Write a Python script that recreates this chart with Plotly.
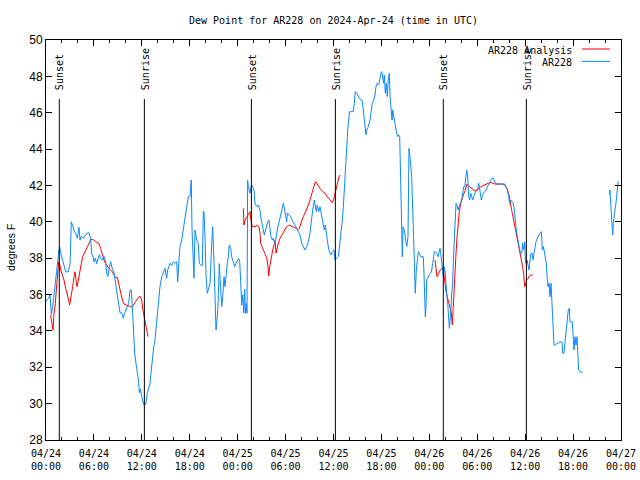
import plotly.graph_objects as go
import pandas as pd

BASE = pd.Timestamp("2024-04-24 00:00")

# ---- AR228 observed dew point (hours after 04/24 00:00 UTC, degrees F) ----
ar228_hours = [
    0.00, 0.08, 0.33, 0.50, 0.58, 0.67, 0.83, 1.00, 1.13, 1.34, 1.46, 1.59, 1.71, 1.84, 2.05, 2.25, 2.46, 2.80,
    3.01, 3.09, 3.17, 3.34, 3.51, 3.71, 3.92, 4.13, 4.26, 4.42, 4.67, 4.84, 5.09, 5.38, 5.59, 5.72, 5.88,
    6.01, 6.18, 6.34, 6.51, 6.68, 6.84, 7.05, 7.26, 7.47, 7.60, 7.76, 7.93, 8.10, 8.31, 8.51, 8.64, 8.76,
    8.93, 9.06, 9.27, 9.47, 9.68, 9.85, 10.02, 10.18, 10.35, 10.52, 10.68, 10.81, 10.94, 11.10, 11.27,
    11.44, 11.60, 11.69, 11.81, 11.94, 12.10, 12.23, 12.48, 12.69,
    13.02, 13.24, 13.44, 13.65, 13.86, 14.06, 14.27, 14.49, 14.69, 14.90, 15.11, 15.24, 15.53, 15.74,
    15.94, 16.15, 16.37, 16.49, 16.65, 16.78, 16.99, 17.12, 17.28, 17.44, 17.62, 17.82, 18.03, 18.12,
    18.19, 18.28, 18.44, 18.53, 18.66, 18.87, 19.07, 19.20, 19.41, 19.57, 19.70, 19.78, 19.91, 20.04,
    20.20, 20.37, 20.54, 20.75, 20.87, 21.04, 21.16, 21.29, 21.45, 21.55, 21.70, 21.88, 22.00, 22.13,
    22.29, 22.41, 22.54, 22.70, 22.83, 22.95, 23.13, 23.25, 23.45, 23.63, 23.79, 23.95, 24.13, 24.26,
    24.38, 24.51, 24.63, 24.76, 24.88, 24.96, 25.08, 25.17, 25.25, 25.33, 25.54, 25.67, 25.83, 26.05,
    26.17, 26.38, 26.58, 26.80, 26.92, 27.09, 27.21, 27.34, 27.51, 27.64, 27.76, 27.92, 28.05, 28.17,
    28.34, 28.46, 28.64, 28.80, 28.96, 29.14, 29.30, 29.47, 29.72, 29.84, 29.97, 30.14, 30.22, 30.47,
    30.64, 30.80, 30.97, 31.18, 31.39, 31.59, 31.81, 32.02, 32.22, 32.43, 32.65, 32.85, 33.06, 33.27,
    33.39, 33.60, 33.72, 33.85, 33.97, 34.15, 34.31, 34.52, 34.72, 34.85, 34.98, 35.06, 35.19, 35.31,
    35.48, 35.69, 35.85, 36.06, 36.19, 36.40, 36.60, 36.73, 36.90, 37.03, 37.15, 37.28, 37.40, 37.53,
    37.65, 37.78, 37.90, 38.03, 38.28, 38.48, 38.61, 38.73, 38.91, 39.07, 39.23, 39.41, 39.57, 39.73,
    39.86, 39.98, 40.07, 40.15, 40.36, 40.57, 40.70, 40.86, 41.04, 41.20, 41.32, 41.49, 41.66, 41.82,
    41.95, 42.04, 42.16, 42.29, 42.36, 42.49, 42.61, 42.74, 42.86, 42.99, 43.08, 43.20, 43.33, 43.41,
    43.54, 43.66, 43.79, 43.91, 44.04, 44.16, 44.29, 44.37, 44.45, 44.54, 44.62, 44.70, 44.87, 45.04,
    45.17, 45.33, 45.45, 45.58, 45.79, 45.99, 46.12, 46.24, 46.37, 46.49, 46.62, 46.74, 46.92, 47.08,
    47.25, 47.33, 47.42, 47.50, 47.58, 47.67, 47.79, 47.96, 48.17, 48.30, 48.42, 48.50, 48.63, 48.75,
    48.92, 49.09, 49.25, 49.34, 49.42, 49.55, 49.67, 49.75, 49.84, 49.96, 50.05, 50.17, 50.30, 50.42,
    50.51, 50.63, 50.71, 50.80, 50.92, 51.00, 51.13, 51.25, 51.34, 51.46, 51.59, 51.72, 51.88, 52.05,
    52.18, 52.30, 52.43, 52.55, 52.68, 52.80, 52.93, 53.05, 53.18, 53.31, 53.43, 53.56, 53.68, 53.85,
    54.06, 54.18, 54.26, 54.38, 54.51, 54.63, 54.76, 54.93, 55.10, 55.26, 55.43, 55.60, 55.76, 55.93,
    56.10, 56.26, 56.43, 56.69, 56.94, 57.19, 57.44, 57.60, 57.77, 57.94, 58.06, 58.19, 58.35, 58.52,
    58.64, 58.77, 58.89, 59.02, 59.14, 59.27, 59.39, 59.57, 59.69, 59.82, 59.94, 60.02, 60.11, 60.23,
    60.36, 60.48, 60.61, 60.73, 60.86, 60.98, 61.11, 61.23, 61.36, 61.52, 61.70, 61.86, 62.03, 62.15,
    62.28, 62.40, 62.53, 62.65, 62.74, 62.86, 62.99, 63.11, 63.24, 63.36, 63.49, 63.61, 63.78, 63.94,
    64.11, 64.28, 64.45, 64.61, 64.70, 64.86, 64.99, 65.11, 65.24, 65.40, 65.53, 65.61, 65.78, 65.91,
    65.99, 66.12, 66.24, 66.37, 66.49, 66.58, 66.70, 66.87, 67.20,
    68.90,
    70.54, 70.62, 70.75, 70.87, 70.96, 71.04, 71.16, 71.29, 71.37, 71.46, 71.54, 71.63, 71.71,
]
ar228_values = [
    35.6, 35.7, 35.8, 36.0, 35.5, 34.9, 35.3, 35.9, 36.6, 37.3, 37.8, 38.35, 38.6, 38.3, 38.0, 37.6, 37.25, 37.25,
    37.7, 39.1, 40.0, 39.8, 39.5, 39.35, 39.1, 39.7, 39.0, 39.2, 39.1, 39.2, 39.35, 39.4, 39.1, 38.25, 38.1,
    37.8, 38.0, 37.7, 37.9, 38.2, 38.0, 37.9, 38.1, 37.8, 37.15, 37.0, 37.5, 37.8, 37.4, 37.25, 36.8, 36.4,
    35.9, 35.5, 35.0, 35.0, 34.7, 35.0, 35.2, 35.3, 35.5, 36.25, 36.25, 35.3, 33.7, 32.8, 32.2,
    31.7, 31.2, 30.6, 30.8, 30.5, 30.2, 29.95, 29.95, 30.6,
    31.1, 32.2, 32.95, 33.5, 34.6, 35.7, 36.43, 36.98, 37.26, 37.44, 36.89, 37.35, 37.72, 37.6,
    37.8, 37.72, 37.8, 36.7, 37.9, 38.63, 39.0, 39.37, 39.64, 40.1, 40.83, 41.38, 41.38, 41.84,
    42.3, 39.64, 37.9, 36.9, 39.55, 39.0, 38.8, 37.72, 37.6, 37.6, 40.56, 40.56, 39.18, 37.0,
    36.07, 36.35, 36.62, 38.8, 39.73, 37.72, 35.52, 34.05, 34.8, 35.5, 37.7, 36.4, 35.33, 35.88,
    36.98, 36.43, 37.17, 37.72, 38.08, 38.72, 38.54, 38.08, 37.8, 37.53, 37.72, 37.9, 37.99, 37.8,
    36.43, 35.42, 36.0, 35.0, 36.3, 34.97, 35.5, 34.97, 42.3, 41.93, 41.57, 41.93, 42.0, 41.75,
    41.0, 40.85, 40.92, 40.65, 40.19, 39.9, 39.55, 39.27, 39.55, 39.82, 40.0, 40.1, 39.7, 39.18,
    39.0, 39.1, 38.82, 39.1, 39.55, 39.92, 40.28, 40.65, 41.02, 40.75, 40.37, 40.0, 40.47, 40.37,
    40.28, 40.1, 40.0, 39.82, 39.64, 39.46, 39.27, 38.82, 38.64, 38.45, 38.64, 38.9, 39.37, 40.28,
    40.65, 41.2, 40.83, 40.56, 40.92, 40.56, 40.83, 40.28, 40.0, 39.55, 39.82, 39.46, 39.18, 38.73,
    38.36, 38.18, 38.36, 38.45, 37.9, 38.0, 38.1, 38.54, 39.18, 39.55, 40.28, 41.2, 42.3, 43.2,
    44.13, 45.05, 45.6, 46.06, 46.06, 46.06, 46.52, 47.16, 47.07, 46.89, 46.8, 46.7, 46.7, 46.15,
    45.6, 45.05, 44.78, 45.05, 45.23, 45.6, 46.15, 46.52, 46.7, 46.98, 47.43, 47.62, 47.53, 47.98,
    48.17, 48.26, 47.8, 47.62, 48.08, 47.07, 47.62, 46.89, 47.8, 48.17, 46.89, 45.97, 45.6, 46.15,
    45.78, 45.6, 45.23, 44.87, 44.68, 44.78, 44.68, 43.03, 39.92, 38.82, 38.08, 39.73, 39.55, 39.0,
    38.64, 39.18, 44.04, 43.58, 42.48, 39.73, 37.35, 36.07, 37.35, 37.9, 38.36, 38.27, 38.08, 38.08,
    38.08, 37.17, 35.7, 34.78, 35.33, 36.8, 36.89, 37.07, 37.17, 37.35, 37.72, 38.08, 38.36, 38.36,
    38.27, 38.08, 38.36, 38.54, 38.27, 37.53, 37.35, 36.98, 37.53, 37.35, 36.62, 36.07, 35.52, 34.6,
    34.14, 34.78, 35.15, 36.07, 36.62, 37.72, 38.82, 40.1, 41.02, 40.92, 40.65, 40.83, 41.02, 41.2,
    41.57, 41.93, 41.93, 42.48, 42.85, 42.48, 41.38, 41.2, 41.57, 41.38, 41.2, 41.38, 41.57, 41.75,
    41.84, 42.12, 41.93, 41.57, 41.2, 41.38, 41.57, 41.66, 41.75, 41.93, 42.12, 42.21, 42.34, 42.43,
    42.3, 42.12, 42.08, 42.08, 42.08, 42.08, 42.08, 41.93, 41.75, 41.38, 41.02, 41.2, 41.1, 41.02,
    40.65, 39.92, 39.55, 39.18, 38.82, 38.45, 38.27, 38.27, 38.82, 38.45, 38.9, 37.9, 37.72, 37.9,
    37.53, 37.35, 37.9, 38.27, 38.27, 37.9, 38.27, 38.64, 38.92, 39.1, 39.27, 39.37, 39.46, 38.45,
    38.64, 38.27, 37.9, 37.72, 36.98, 36.43, 36.62, 35.88, 36.62, 35.33, 34.78, 33.22, 33.22, 33.31,
    33.31, 33.4, 33.4, 33.4, 32.77, 32.77, 33.4, 33.95, 34.6, 35.15, 35.24, 34.5, 34.5, 34.5,
    33.86, 32.95, 33.68, 33.22, 33.68, 32.77, 31.85, 31.76, 31.72,
    None,
    41.5, 41.75, 40.75, 39.73, 39.27, 39.9, 40.47, 40.83, 41.02, 41.57, 41.75, 42.2, 42.2,
]

# ---- AR228 Analysis (hours after 04/24 00:00 UTC, degrees F) ----
analysis_hours = [
    0.58, 0.75, 0.88, 1.00, 1.17, 1.29, 1.42, 1.59, 1.71, 1.84, 2.05, 2.25, 2.46, 2.67, 2.84, 2.96,
    3.09, 3.21, 3.34, 3.51, 3.63, 3.76, 3.88, 4.01, 4.13, 4.26, 4.42, 4.59, 4.76, 4.97, 5.18, 5.38,
    5.59, 5.80, 6.01, 6.22, 6.43, 6.64, 6.84, 7.05, 7.26, 7.47, 7.68, 7.89, 8.10, 8.31, 8.51, 8.72,
    8.93, 9.14, 9.35, 9.56, 9.77, 9.97, 10.18, 10.39, 10.60, 10.81, 11.02, 11.23, 11.44, 11.64,
    11.85, 11.98, 12.14, 12.27, 12.40, 12.52, 12.65, 12.77,
    18.00,
    24.71, 24.79, 24.92, 25.13, 25.33, 25.54, 25.67, 25.83, 26.17, 26.46, 26.67, 26.80, 26.88, 27.05,
    27.21, 27.42, 27.64, 27.80, 27.89, 28.01, 28.14, 28.26, 28.39, 28.55, 28.68, 28.80, 28.93, 29.09,
    29.30, 29.51, 29.72, 29.93, 30.14, 30.34, 30.55, 30.77, 30.97, 31.18, 31.39, 31.59, 31.72, 31.89,
    32.06, 32.22, 32.43, 32.65, 32.85, 33.06, 33.27, 33.47, 33.68, 33.81, 34.02, 34.31, 34.65, 34.94,
    35.22, 35.48, 35.69, 35.85, 36.03, 36.19, 36.31, 36.44, 36.56, 36.69, 36.81,
    42.00,
    48.71, 48.84, 48.96, 49.17, 49.38, 49.59, 49.75, 49.84, 49.96, 50.09, 50.25, 50.42, 50.59, 50.76,
    50.88, 50.96, 51.09, 51.22, 51.34, 51.47, 51.59, 51.76, 51.93, 52.09, 52.26, 52.43, 52.59, 52.72,
    52.89, 53.09, 53.34, 53.59, 53.84, 54.09, 54.34, 54.59, 54.88, 55.18, 55.51, 55.85, 56.18, 56.52,
    56.85, 57.18, 57.39, 57.60, 57.81, 57.94, 58.06, 58.19, 58.31, 58.44, 58.56, 58.69, 58.81, 58.94,
    59.06, 59.19, 59.32, 59.44, 59.57, 59.69, 59.82, 59.94, 60.07, 60.19, 60.36, 60.52, 60.69, 60.94,
]
analysis_values = [
    34.87, 34.5, 34.05, 34.96, 35.5, 36.25, 36.98, 37.8, 37.7, 37.35, 37.07, 36.8, 36.34, 36.06, 35.7, 35.42,
    35.88, 36.06, 36.43, 36.98, 37.25, 36.8, 36.43, 36.7, 37.07, 37.34, 37.7, 38.08, 38.26, 38.44, 38.63, 38.81,
    39.03, 39.03, 39.0, 38.9, 38.85, 38.81, 38.53, 38.17, 37.9, 37.7, 37.53, 37.44, 37.35, 37.25, 37.07, 36.94,
    36.94, 36.52, 36.06, 35.7, 35.48, 35.42, 35.4, 35.37, 35.33, 35.3, 35.48, 35.6, 35.73, 35.88,
    35.88, 35.7, 35.15, 34.78, 34.45, 34.23, 33.96, 33.68,
    None,
    40.74, 39.82, 40.1, 40.28, 40.47, 40.56, 40.1, 39.73, 39.73, 39.82, 39.73, 39.37, 38.82, 38.6,
    38.45, 38.27, 37.99, 37.53, 37.02, 37.53, 37.9, 38.08, 38.45, 38.72, 38.99, 38.27, 38.54, 38.82,
    39.09, 39.27, 39.46, 39.64, 39.73, 39.79, 39.82, 39.73, 39.73, 39.68, 39.64, 39.58, 39.64, 39.82,
    40.1, 40.28, 40.47, 40.74, 40.92, 41.2, 41.57, 41.93, 42.15, 42.2, 42.02, 41.84, 41.66, 41.57,
    41.38, 41.24, 41.1, 41.05, 41.24, 41.57, 41.84, 42.02, 42.3, 42.48, 42.57,
    None,
    37.9, 37.44, 36.98, 37.17, 37.35, 37.44, 37.53, 37.07, 36.43, 36.16, 35.88, 35.61, 35.33, 34.97,
    34.32, 35.15, 36.43, 37.53, 38.27, 39.18, 40.0, 40.56, 41.02, 41.3, 41.47, 41.66, 41.93, 42.08,
    41.97, 41.9, 41.84, 41.75, 41.66, 41.8, 41.9, 41.97, 42.02, 42.08, 42.15, 42.15, 42.08, 42.08,
    42.08, 42.08, 42.02, 41.93, 41.75, 41.57, 41.3, 40.92, 40.65, 40.37, 40.1, 39.82, 39.55, 39.27,
    39.0, 38.72, 38.41, 38.08, 37.81, 37.53, 37.07, 36.43, 36.58, 36.8, 36.89, 37.02, 37.07, 37.07,
]

# ---- Sun events (UTC) ----
event_labels = ["Sunset", "Sunrise", "Sunset", "Sunrise", "Sunset", "Sunrise"]
event_times = ["2024-04-24 01:40", "2024-04-24 12:19", "2024-04-25 01:43",
               "2024-04-25 12:14", "2024-04-26 01:45", "2024-04-26 12:09"]
event_line_top = 46.75
event_label_base = 47.15

# ---- Axis ticks ----
x_tick_hours = [0, 6, 12, 18, 24, 30, 36, 42, 48, 54, 60, 66, 72]
x_tick_labels = ["04/24<br>00:00", "04/24<br>06:00", "04/24<br>12:00", "04/24<br>18:00",
                 "04/25<br>00:00", "04/25<br>06:00", "04/25<br>12:00", "04/25<br>18:00",
                 "04/26<br>00:00", "04/26<br>06:00", "04/26<br>12:00", "04/26<br>18:00",
                 "04/27<br>00:00"]
y_ticks = [28, 30, 32, 34, 36, 38, 40, 42, 44, 46, 48, 50]

MONO = "DejaVu Sans Mono"
SANS = "Liberation Sans"
BLUE = "#0a88ff"
RED = "#ff0000"


def to_time(hours):
    return [BASE + pd.Timedelta(hours=h) for h in hours]


fig = go.Figure()
fig.add_trace(go.Scatter(x=to_time(analysis_hours), y=analysis_values, mode="lines",
                         name="AR228 Analysis", line=dict(color=RED, width=1)))
fig.add_trace(go.Scatter(x=to_time(ar228_hours), y=ar228_values, mode="lines",
                         name="AR228", line=dict(color=BLUE, width=1)))

for lab, t in zip(event_labels, event_times):
    fig.add_shape(type="line", xref="x", yref="y", x0=t, x1=t, y0=28, y1=event_line_top,
                  line=dict(color="black", width=1))
    fig.add_annotation(x=t, y=event_label_base, xref="x", yref="y", text=lab,
                       textangle=-90, showarrow=False, xanchor="center", yanchor="bottom",
                       xshift=1, font=dict(family=MONO, size=10, color="black"))

# Legend (gnuplot style: right-aligned text, sample line to the right)
legend_rows = [("AR228 Analysis", RED, 0.975), ("AR228", BLUE, 0.944)]
for text, col, yy in legend_rows:
    fig.add_annotation(x=0.919, y=yy, xref="paper", yref="paper", text=text, showarrow=False,
                       xanchor="right", yanchor="middle", font=dict(family=MONO, size=10, color="black"))
    fig.add_shape(type="line", xref="paper", yref="paper", x0=0.932, x1=0.981, y0=yy + 0.0025, y1=yy + 0.0025,
                  line=dict(color=col, width=1))

fig.add_annotation(x=-0.061, y=0.4825, xref="paper", yref="paper", text="degrees F", textangle=-90,
                   showarrow=False, xanchor="center", yanchor="middle",
                   font=dict(family=SANS, size=10.5, color="black"))

fig.update_layout(
    width=640, height=480,
    margin=dict(l=46, r=19, t=40, b=40),
    plot_bgcolor="white", paper_bgcolor="white",
    showlegend=False,
    title=dict(text="Dew Point for AR228 on 2024-Apr-24 (time in UTC)", x=0.5, xref="paper",
               y=1 - 20 / 480, yanchor="middle", xanchor="center",
               font=dict(family=MONO, size=10, color="black")),
)
fig.update_xaxes(
    type="date", automargin=False,
    range=[BASE, BASE + pd.Timedelta(hours=72)],
    tickvals=to_time(x_tick_hours), ticktext=x_tick_labels,
    ticks="inside", ticklen=6, tickcolor="black", tickwidth=1,
    showline=True, linecolor="black", linewidth=1, mirror="ticks",
    showgrid=False, zeroline=False, ticklabelstandoff=4,
    tickfont=dict(family=MONO, size=10, color="black"),
    minor=dict(dtick=2 * 3600 * 1000, tick0=BASE, ticks="inside", ticklen=3,
               tickcolor="black", showgrid=False),
)
fig.update_yaxes(
    range=[28, 50], tickvals=y_ticks, automargin=False,
    ticks="inside", ticklen=6, tickcolor="black", tickwidth=1,
    showline=True, linecolor="black", linewidth=1, mirror="ticks",
    showgrid=False, zeroline=False,
    tickfont=dict(family=SANS, size=12, color="black"),
)

fig.write_html("out.html", config={"displayModeBar": False},
               post_script="document.body.style.margin='0';document.body.style.padding='0';")
